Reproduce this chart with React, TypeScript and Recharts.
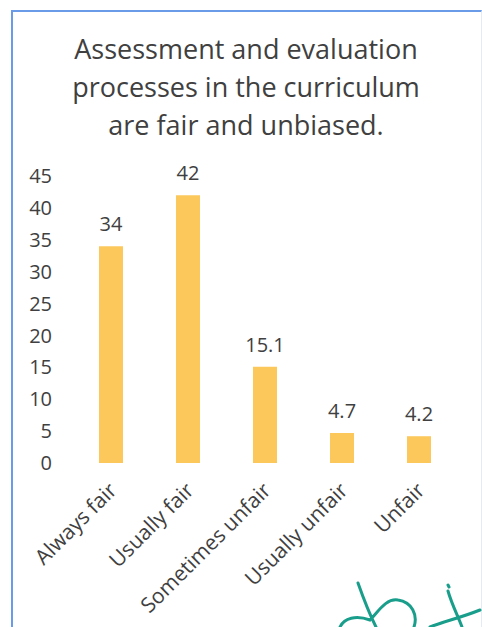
import React from 'react';
import { BarChart, Bar, XAxis, YAxis, LabelList } from 'recharts';

const categories = ['Always fair', 'Usually fair', 'Sometimes unfair', 'Usually unfair', 'Unfair'];
const percentages = [34, 42, 15.1, 4.7, 4.2];
const yTicks = [0, 5, 10, 15, 20, 25, 30, 35, 40, 45];

const titleLines = [
  'Assessment and evaluation',
  'processes in the curriculum',
  'are fair and unbiased.',
];

const FONT = '"Open Sans", "Noto Sans", sans-serif';
const TEXT = '#404040';
const BAR = '#FCC85C';

const data = categories.map((name, i) => ({ name, value: percentages[i] }));

const AngledTick = (props: any) => {
  const { x, y, payload } = props;
  return (
    <g transform={`translate(${x - 3},${y + 10})`}>
      <text
        transform="rotate(-45)"
        textAnchor="end"
        dy={15}
        fill={TEXT}
        fontSize={21}
        fontFamily={FONT}
      >
        {payload.value}
      </text>
    </g>
  );
};

export default function App() {
  return (
    <div style={{ position: 'absolute', left: 0, top: 0, width: 482, height: 627, background: '#fff', overflow: 'hidden' }}>
      {/* frame around the chart */}
      <div
        style={{
          position: 'absolute',
          left: 11,
          top: 10,
          width: 468,
          height: 640,
          borderLeft: '2px solid #6a9be8',
          borderTop: '2px solid #6a9be8',
          borderRight: '1px solid #e4ebf6',
        }}
      />
      <div
        style={{
          position: 'absolute',
          left: 11,
          top: 30,
          width: 470,
          textAlign: 'center',
          fontFamily: FONT,
          fontSize: 27,
          lineHeight: '38px',
          color: TEXT,
        }}
      >
        {titleLines.map((t) => (
          <div key={t}>{t}</div>
        ))}
      </div>
      <div style={{ position: 'absolute', left: 0, top: 0 }}>
        <BarChart
          width={482}
          height={627}
          data={data}
          margin={{ top: 176, right: 25, left: 12, bottom: 134 }}
        >
          <XAxis
            dataKey="name"
            axisLine={false}
            tickLine={false}
            interval={0}
            height={30}
            tick={<AngledTick />}
          />
          <YAxis
            domain={[0, 45]}
            ticks={yTicks}
            axisLine={false}
            tickLine={false}
            tickSize={0}
            tickMargin={20}
            width={60}
            tick={{ fill: TEXT, fontSize: 20, fontFamily: FONT }}
          />
          <Bar dataKey="value" fill={BAR} barSize={24} isAnimationActive={false}>
            <LabelList
              dataKey="value"
              position="top"
              offset={15}
              fill={TEXT}
              fontSize={20}
              fontFamily={FONT}
            />
          </Bar>
        </BarChart>
      </div>
      {/* handwritten initials in the corner */}
      <svg style={{ position: 'absolute', left: 330, top: 560 }} width={152} height={67}>
        <path
          d="M28 23 C34 40 40 55 46 67 M10 67 C14 58 26 55 40 60 C48 52 56 38 68 40 C82 42 88 55 84 67 M118 31 C122 45 128 56 132 67 M118 25 L119 27 M100 67 C112 62 130 58 150 50"
          fill="none"
          stroke="#1a9e8c"
          strokeWidth={3}
          strokeLinecap="round"
        />
      </svg>
    </div>
  );
}
